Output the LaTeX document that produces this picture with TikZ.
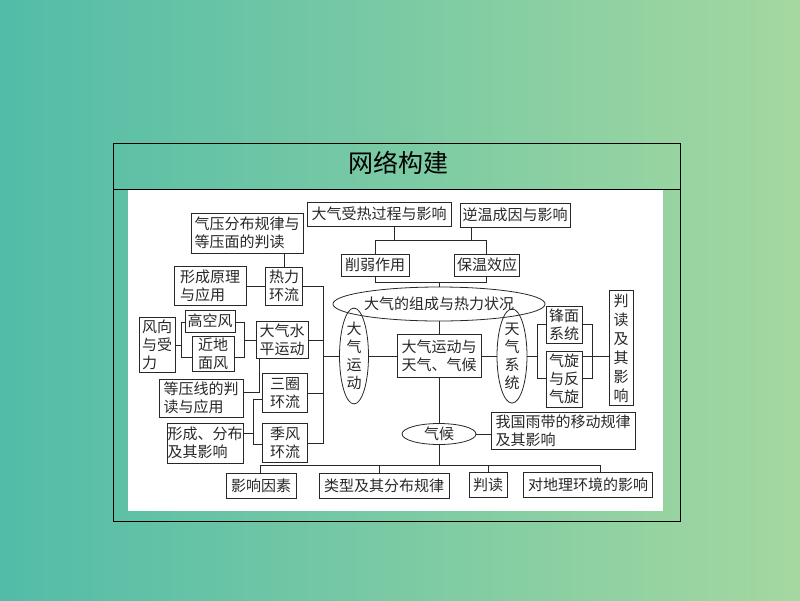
\documentclass[tikz,border=0pt]{standalone}
\usepackage{fontspec}
\newfontfamily\cjk{Noto Sans CJK SC}
\usetikzlibrary{shapes.geometric}
\definecolor{bgL}{RGB}{82,188,168}
\definecolor{bgR}{RGB}{164,216,160}
\definecolor{ink}{RGB}{40,40,40}
\tikzset{
  bx/.style={draw=ink, line width=0.8pt, inner sep=0pt, text=ink, align=center,
    font=\cjk\fontsize{15}{18}\selectfont},
  ell/.style={bx, ellipse},
  ln/.style={draw=ink, line width=0.8pt},
}
\begin{document}
\begin{tikzpicture}[x=1pt,y=-1pt]
\useasboundingbox (0,0) rectangle (800,600);
\shade[left color=bgL, right color=bgR] (0,0) rectangle (800,600);
\fill[white] (128,190) rectangle (663,511);
\draw[black, line width=0.9pt] (113,143) rectangle (680,521);
\draw[black, line width=0.9pt] (113,189) -- (680,189);
\node[font=\cjk\fontsize{25}{28}\selectfont, text=black] (title) at (398,163) {网络构建};

% top
\node[bx, minimum width=144pt, minimum height=24pt] (t1) at (379,214) {大气受热过程与影响};
\node[bx, minimum width=110pt, minimum height=24pt] (t2) at (515,215) {逆温成因与影响};
\node[bx, minimum width=68pt, minimum height=22pt] (t3) at (375,265) {削弱作用};
\node[bx, minimum width=65pt, minimum height=22pt] (t4) at (487,265) {保温效应};
\node[ell, minimum width=174pt, minimum height=34pt] (e1) at (439,304) {大气的组成与热力状况};

% centre column
\node[bx, minimum width=84pt, minimum height=43pt] (c) at (439,356) {大气运动与\\天气、气候};
\node[ell, minimum width=29pt, minimum height=80pt] (e2) at (354,356) {大\\气\\运\\动};
\node[ell, minimum width=30pt, minimum height=83pt] (e3) at (512,356) {天\\气\\系\\统};
\node[ell, minimum width=74pt, minimum height=21pt] (e4) at (439,434) {气候};
\node[bx, minimum width=144pt, minimum height=37pt, align=left] (r1) at (563,431) {我国雨带的移动规律\\及其影响\hspace*{75pt}};

% bottom
\node[bx, minimum width=70pt, minimum height=25pt] (b1) at (261,486) {影响因素};
\node[bx, minimum width=130pt, minimum height=25pt] (b2) at (384,486) {类型及其分布规律};
\node[bx, minimum width=38pt, minimum height=25pt] (b3) at (488,485) {判读};
\node[bx, minimum width=129pt, minimum height=25pt] (b4) at (588,485) {对地理环境的影响};

% right
\node[bx, minimum width=36pt, minimum height=37pt] (f1) at (564,325) {锋面\\系统};
\node[bx, minimum width=36pt, minimum height=56pt] (f2) at (564,379) {气旋\\与反\\气旋};
\node[bx, minimum width=24pt, minimum height=115pt, font=\cjk\fontsize{15}{19}\selectfont] (f3) at (621,348) {判\\读\\及\\其\\影\\响};

% left
\node[bx, minimum width=112pt, minimum height=40pt, align=left] (l1) at (247,233) {气压分布规律与\\等压面的判读};
\node[bx, minimum width=72pt, minimum height=39pt, align=left] (l2) at (210,286) {形成原理\\与应用};
\node[bx, minimum width=37pt, minimum height=38pt] (l3) at (284,286) {热力\\环流};
\node[bx, minimum width=36pt, minimum height=55pt, align=left] (l4) at (157,345) {风向\\与受\\力};
\node[bx, minimum width=50pt, minimum height=22pt] (l5) at (210,321) {高空风};
\node[bx, minimum width=42pt, minimum height=35pt] (l6) at (213,354) {近地\\面风};
\node[bx, minimum width=52pt, minimum height=37pt] (l7) at (282,340) {大气水\\平运动};
\node[bx, minimum width=84pt, minimum height=38pt, align=left] (l8) at (201,398) {等压线的判\\读与应用};
\node[bx, minimum width=45pt, minimum height=39pt] (l9) at (285,393) {三圈\\环流};
\node[bx, minimum width=45pt, minimum height=39pt] (l10) at (285,443) {季风\\环流};
\node[bx, minimum width=76pt, minimum height=40pt, align=left] (l11) at (205,443) {形成、分布\\及其影响};

% junction coordinates
\coordinate (ja) at (375,240);
\coordinate (jb) at (486,240);
\coordinate (jc) at (375,282);
\coordinate (jd) at (486,282);
\coordinate (je) at (439,282);
\coordinate (jbl) at (260,465);
\coordinate (jbr) at (600,465);
\coordinate (rl) at (537,356);
\coordinate (rl1) at (537,324);
\coordinate (rl2) at (537,378);
\coordinate (rr1) at (592,324);
\coordinate (rr2) at (592,378);
\coordinate (lb1) at (323,286);
\coordinate (lb2) at (323,443);
\coordinate (wa1) at (181,322);
\coordinate (wa2) at (181,357);
\coordinate (wb1) at (244,322);
\coordinate (wb2) at (244,357);
\coordinate (k1) at (259,392);
\coordinate (m0) at (253,433);
\coordinate (m1) at (253,399);
\coordinate (m2) at (253,444);

% top connectors
\draw[ln] ([xshift=15pt]t1.south) |- (ja);
\draw[ln] ([xshift=-44pt]t2.south) |- (jb);
\draw[ln] (t3.north -| ja) -- (ja) -- (jb) -- (t4.north -| jb);
\draw[ln] (t3.south -| jc) -- (jc) -- (jd) -- (t4.south -| jd);
\draw[ln] (je) -- (e1.north);

% centre connectors
\draw[ln] (e1.south) -- (c.north);
\draw[ln] (e2.east) -- (c.west);
\draw[ln] (c.east) -- (e3.west);
\draw[ln] (c.south) -- (e4.north);
\draw[ln] (e4.east) -- (r1.west |- e4.east);
\draw[ln] (e4.south) |- (jbl);
\draw[ln] (jbl) -- (jbr);
\draw[ln] (b1.north -| jbl) -- (jbl);
\draw[ln] ([xshift=-5pt]b2.north) |- (jbl);
\draw[ln] (b3.north) |- (jbr);
\draw[ln] ([xshift=12pt]b4.north) |- (jbr);

% right connectors
\draw[ln] (e3.east) -- (rl);
\draw[ln] (f1.west |- rl1) -- (rl1) -- (rl2) -- (f2.west |- rl2);
\draw[ln] (f1.east |- rr1) -- (rr1) -- (rr2) -- (f2.east |- rr2);
\draw[ln] (f2.east |- rl) -- (f3.west |- rl);

% left connectors
\draw[ln] (l3.north) -- (l3.north |- l1.south);
\draw[ln] (l2.east) -- (l3.west);
\draw[ln] (l3.east) -- (lb1) -- (lb2) -- (l10.east);
\draw[ln] (l7.east) -- (l7.east -| lb1);
\draw[ln] (l9.east) -- (l9.east -| lb1);
\draw[ln] (lb1 |- e2.west) -- (e2.west);
\draw[ln] (l4.east) -- (l4.east -| wa1);
\draw[ln] (l5.west |- wa1) -- (wa1) -- (wa2) -- (l6.west |- wa2);
\draw[ln] (l5.east |- wb1) -- (wb1) -- (wb2) -- (l6.east |- wb2);
\draw[ln] (wb1 |- l7.west) -- (l7.west);
\draw[ln] (l7.south -| k1) -- (k1) -- (l8.east |- k1);
\draw[ln] (l11.east |- m0) -- (m0);
\draw[ln] (l9.west |- m1) -- (m1) -- (m2) -- (l10.west |- m2);
\end{tikzpicture}
\end{document}
